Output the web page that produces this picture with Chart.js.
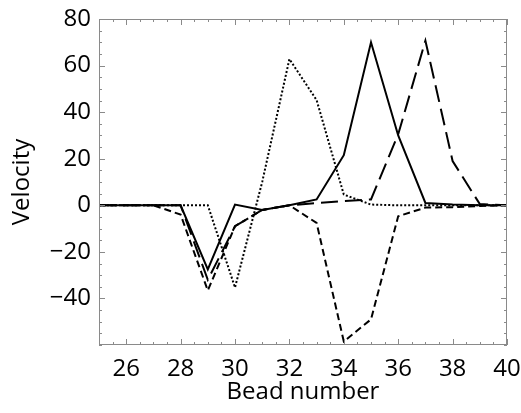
<!DOCTYPE html>
<html>
<head>
<meta charset="utf-8">
<script src="https://cdn.jsdelivr.net/npm/chart.js@4"></script>
<style>
  body { margin: 0; background: #fff; }
  #grafico { display: block; }
</style>
</head>
<body>
<canvas id="grafico" width="521" height="413"></canvas>
<script>
// bead index along the chain
const beads = [25, 26, 27, 28, 29, 30, 31, 32, 33, 34, 35, 36, 37, 38, 39, 40];

// velocities
const velSolid     = [0, 0, 0, 0, -27.5, 0.3, -2, 0, 2.5, 21.5, 70, 30, 1, 0.3, 0, 0];
const velDotted    = [0, 0, 0, 0, 0, -35.3, 10, 62.8, 45.2, 4.6, 0.3, 0, 0, 0, 0, 0];
const velShortDash = [0, 0, 0, -4, -36.6, -9, -2, 0, -7.6, -58.5, -49, -4.7, -1, -0.8, -0.3, 0];
const velLongDash  = [0, 0, 0, 0, -32, -9, -2, 0, 1, 1.8, 2.5, 30.5, 70.7, 19, 0.5, 0];

const xTicks = [26, 28, 30, 32, 34, 36, 38, 40];
const yTicks = [-40, -20, 0, 20, 40, 60, 80];

const fuente = "'Open Sans', 'DejaVu Sans', sans-serif";
const grisMarco = '#8a8a8a';

function puntos(valores) {
  return beads.map((b, i) => ({ x: b, y: valores[i] }));
}

function serie(valores, dash) {
  return {
    data: puntos(valores),
    borderColor: '#000',
    borderWidth: 2,
    borderDash: dash,
    borderCapStyle: 'butt',
    pointRadius: 0,
    tension: 0,
    fill: false
  };
}

// frame with inward ticks on all four sides
const marcoPlugin = {
  id: 'marco',
  afterDraw(chart) {
    const ctx = chart.ctx;
    const a = chart.chartArea;
    const xs = chart.scales.x;
    const ys = chart.scales.y;
    ctx.save();
    ctx.strokeStyle = grisMarco;
    ctx.lineWidth = 1;
    ctx.strokeRect(a.left + 0.5, a.top + 0.5, a.right - a.left - 1, a.bottom - a.top - 1);

    ctx.beginPath();
    for (let v = 25; v <= 40; v += 0.5) {
      const px = Math.round(xs.getPixelForValue(v)) + 0.5;
      const len = xTicks.includes(v) ? 6 : 3;
      ctx.moveTo(px, a.bottom);
      ctx.lineTo(px, a.bottom - len);
      ctx.moveTo(px, a.top);
      ctx.lineTo(px, a.top + len);
    }
    for (let v = -60; v <= 80; v += 5) {
      const py = Math.round(ys.getPixelForValue(v)) + 0.5;
      const len = yTicks.includes(v) ? 6 : 3;
      ctx.moveTo(a.left, py);
      ctx.lineTo(a.left + len, py);
      ctx.moveTo(a.right, py);
      ctx.lineTo(a.right - len, py);
    }
    ctx.stroke();
    ctx.restore();
  }
};

const ctx = document.getElementById('grafico');
new Chart(ctx, {
  type: 'line',
  data: {
    datasets: [
      serie(velDotted, [2, 2]),
      serie(velShortDash, [7, 4]),
      serie(velLongDash, [17, 7]),
      serie(velSolid, [])
    ]
  },
  options: {
    responsive: false,
    animation: false,
    layout: { autoPadding: false, padding: { left: 0, top: 19, right: 14, bottom: 0 } },
    plugins: {
      legend: { display: false },
      tooltip: { enabled: false }
    },
    scales: {
      x: {
        type: 'linear',
        min: 25,
        max: 40,
        afterFit(s) { s.height = 68; s.paddingLeft = 0; s.paddingRight = 0; },
        afterBuildTicks(s) { s.ticks = xTicks.map(v => ({ value: v })); },
        grid: { display: false, drawTicks: false },
        border: { display: false },
        ticks: {
          color: '#000',
          padding: 10,
          maxRotation: 0,
          font: { family: fuente, size: 24 }
        },
        title: {
          display: true,
          text: 'Bead number',
          color: '#000',
          padding: { top: 0, bottom: 6 },
          font: { family: fuente, size: 24 }
        }
      },
      y: {
        type: 'linear',
        min: -60,
        max: 80,
        afterFit(s) { s.width = 99; s.paddingTop = 0; s.paddingBottom = 0; },
        afterBuildTicks(s) { s.ticks = yTicks.map(v => ({ value: v })); },
        grid: { display: false, drawTicks: false },
        border: { display: false },
        ticks: {
          color: '#000',
          padding: 8,
          font: { family: fuente, size: 24 },
          callback: v => (v < 0 ? '\u2212' + Math.abs(v) : String(v))
        },
        title: {
          display: true,
          text: 'Velocity',
          color: '#000',
          padding: { top: 8, bottom: 0 },
          font: { family: fuente, size: 24 }
        }
      }
    }
  },
  plugins: [marcoPlugin]
});
</script>
</body>
</html>
